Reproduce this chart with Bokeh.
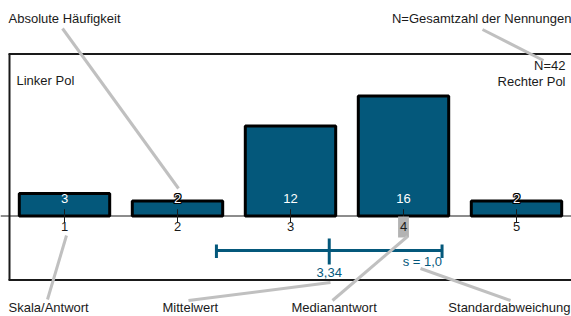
from bokeh.plotting import figure
from bokeh.models import Range1d
from bokeh.core.properties import value
from bokeh.embed import file_html
from bokeh.resources import INLINE
import math

# ---- data ----
categories = [1, 2, 3, 4, 5]
counts = [3, 2, 12, 16, 2]
tick_labels = ["1", "2", "3", "4", "5"]
n_total_label = "N=42"
left_pole = "Linker Pol"
right_pole = "Rechter Pol"

# statistics derived from the counts
N = sum(counts)
mean = sum(c * k for c, k in zip(categories, counts)) / N
sd = math.sqrt(sum(k * (c - mean) ** 2 for c, k in zip(categories, counts)) / (N - 1))
cum = 0
median = categories[-1]
for c, k in zip(categories, counts):
    cum += k
    if cum >= (N + 1) / 2:
        median = c
        break
mean_txt = f"{mean:.2f}".replace(".", ",")
sd_txt = "s = " + f"{sd:.1f}".replace(".", ",")

# ---- pixel helpers (layout only) ----
def vx(px):
    return 1 + (px - 64) / 113.0

def cy(py):
    return (215.5 - py) / 7.5

BAR = "#04587b"
GREY = "#c0c0c0"
TXT = "#1a1a1a"
FONT = value("Liberation Sans")

p = figure(width=571, height=316, output_backend="svg", toolbar_location=None,
           x_range=Range1d(vx(0), vx(571)), y_range=Range1d(cy(316), cy(0)),
           x_axis_location=None, y_axis_location=None, min_border=0)
p.outline_line_color = None
p.xgrid.visible = False
p.ygrid.visible = False
p.background_fill_color = "white"

# frame
p.segment(x0=[vx(8), vx(8), vx(9)], x1=[vx(575), vx(575), vx(9)],
          y0=[cy(53.5), cy(279.5), cy(53.5)], y1=[cy(53.5), cy(279.5), cy(279.5)],
          line_color=TXT, line_width=2)

# baseline
p.segment(x0=[vx(0)], x1=[vx(575)], y0=[0], y1=[0], line_color=TXT, line_width=1)

# bars
p.vbar(x=categories, top=counts, bottom=0, width=0.8, fill_color=BAR,
       line_color="black", line_width=3)

# ticks
p.segment(x0=categories, x1=categories, y0=[-0.9] * 5, y1=[0.9] * 5,
          line_color=TXT, line_width=1)

# median highlight
p.quad(left=[median - 0.048], right=[median + 0.048], top=[cy(216)], bottom=[cy(237)],
       fill_color="#b3b3b3", line_color=None)

# tick labels
p.text(x=categories, y=[cy(226)] * 5, text=tick_labels, text_align="center",
       text_baseline="middle", text_font=FONT, text_font_size="13px", text_color=TXT)

# value labels (outlined when they stick out of the bar)
ly = cy(198)
small = [(c, str(k)) for c, k in zip(categories, counts) if k < 3]
if small:
    sx = [c for c, _ in small]
    st = [t for _, t in small]
    for dx, dy in [(-1, 0), (1, 0), (0, -1), (0, 1), (-1, -1), (1, 1), (-1, 1), (1, -1)]:
        p.text(x=sx, y=[ly] * len(sx), text=st, text_align="center", text_baseline="middle",
               text_font=FONT, text_font_size="13px", text_color="black",
               x_offset=dx, y_offset=dy)
p.text(x=categories, y=[ly] * 5, text=[str(k) for k in counts], text_align="center",
       text_baseline="middle", text_font=FONT, text_font_size="13px", text_color="white")

# mean +/- sd
yl = cy(250)
p.segment(x0=[mean - sd], x1=[mean + sd], y0=[yl], y1=[yl], line_color=BAR, line_width=3)
p.segment(x0=[mean - sd, mean + sd, mean], x1=[mean - sd, mean + sd, mean],
          y0=[cy(244), cy(244), cy(238)], y1=[cy(257.5), cy(257.5), cy(264)],
          line_color=BAR, line_width=3)
p.text(x=[mean], y=[cy(272)], text=[mean_txt], text_align="center", text_baseline="middle",
       text_font=FONT, text_font_size="13px", text_color=BAR)
p.text(x=[mean + sd], y=[cy(261)], text=[sd_txt], text_align="right", text_baseline="middle",
       text_font=FONT, text_font_size="13px", text_color=BAR)

# pole / N labels
p.text(x=[vx(16)], y=[cy(80)], text=[left_pole], text_align="left", text_baseline="middle",
       text_font=FONT, text_font_size="13px", text_color=TXT)
p.text(x=[vx(565), vx(565)], y=[cy(65), cy(81)], text=[n_total_label, right_pole],
       text_align="right", text_baseline="middle",
       text_font=FONT, text_font_size="13px", text_color=TXT)

# annotation leader lines
p.segment(x0=[vx(62), vx(482), vx(66), vx(188), vx(332), vx(420)],
          y0=[cy(28), cy(29), cy(235), cy(300), cy(300), cy(268)],
          x1=[vx(178), vx(543), vx(47), vx(330), vx(407), vx(510)],
          y1=[cy(188), cy(60), cy(299), cy(282), cy(236), cy(300)],
          line_color=GREY, line_width=3)

# annotation texts
p.text(x=[vx(8)], y=[cy(18)], text=["Absolute Häufigkeit"], text_align="left",
       text_baseline="middle", text_font=FONT, text_font_size="13px", text_color=TXT)
p.text(x=[vx(571)], y=[cy(18)], text=["N=Gesamtzahl der Nennungen"], text_align="right",
       text_baseline="middle", text_font=FONT, text_font_size="13px", text_color=TXT)
p.text(x=[vx(8), vx(162), vx(291)], y=[cy(307)] * 3,
       text=["Skala/Antwort", "Mittelwert", "Medianantwort"], text_align="left",
       text_baseline="middle", text_font=FONT, text_font_size="13px", text_color=TXT)
p.text(x=[vx(570)], y=[cy(307)], text=["Standardabweichung"], text_align="right",
       text_baseline="middle", text_font=FONT, text_font_size="13px", text_color=TXT)

open("out.html", "w").write(file_html(p, INLINE))
